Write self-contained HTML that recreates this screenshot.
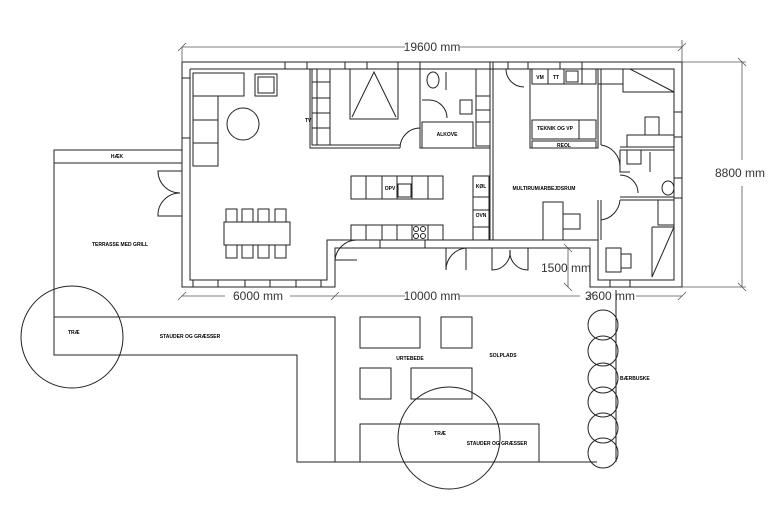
<!DOCTYPE html>
<html><head><meta charset="utf-8"><style>
html,body{margin:0;padding:0;background:#fff}
svg{display:block}
text{font-family:"Liberation Sans",sans-serif}
.s{font-size:5px;font-weight:bold}
.d{font-size:12px;fill:#333}
</style></head><body>
<svg width="768" height="512" viewBox="0 0 768 512" xmlns="http://www.w3.org/2000/svg">
<g fill="none" stroke="#222" stroke-width="1">
<!-- garden -->
<rect x="54" y="150" width="128" height="13"/>
<polyline points="54,163 54,355 297,355 297,462 597,462"/>
<polyline points="54,317 335,317 335,462"/>
<circle cx="72" cy="337" r="51"/>
<rect x="360" y="317" width="60" height="31"/>
<rect x="441" y="317" width="31" height="31"/>
<rect x="360" y="368" width="31" height="31"/>
<rect x="411" y="368" width="61" height="31"/>
<rect x="360" y="424" width="179" height="38"/>
<circle cx="449" cy="438" r="51"/>
<line x1="616" y1="290" x2="616" y2="462"/>
<circle cx="603" cy="325" r="15"/><circle cx="603" cy="351" r="15"/><circle cx="603" cy="378" r="15"/>
<circle cx="603" cy="402" r="15"/><circle cx="603" cy="428" r="15"/><circle cx="603" cy="453" r="15"/>
<!-- house walls -->
<polyline points="182,62 682,62 682,287 590,287 590,248 335,248 335,287 182,287 182,62"/>
<polyline points="190,69 674,69 674,280 598,280 598,240 327,240 327,280 190,280 190,69"/>
<!-- windows -->
<rect x="285" y="62" width="22" height="7"/><rect x="345" y="62" width="22" height="7"/><rect x="398" y="62" width="22" height="7"/>
<rect x="508" y="62" width="20" height="7"/><rect x="560" y="62" width="22" height="7"/>
<rect x="193" y="280" width="128" height="7"/>
<line x1="218" y1="280" x2="218" y2="287"/><line x1="245" y1="280" x2="245" y2="287"/><line x1="270" y1="280" x2="270" y2="287"/><line x1="296" y1="280" x2="296" y2="287"/>
<rect x="182" y="78" width="8" height="60"/>
<rect x="674" y="112" width="8" height="25"/><rect x="674" y="178" width="8" height="20"/>
<rect x="610" y="280" width="20" height="7"/>
<!-- terrace doors -->
<path d="M182 171 H158 A22 22 0 0 0 180 193"/>
<path d="M182 216 H158 A22 22 0 0 1 180 193"/>
<!-- living -->
<path d="M193 73 H244 V96 H218 V166 H193 Z"/>
<line x1="193" y1="96" x2="218" y2="96"/><line x1="193" y1="120" x2="218" y2="120"/><line x1="193" y1="143" x2="218" y2="143"/>
<rect x="255" y="74" width="22" height="22"/><rect x="258" y="77" width="16" height="16"/>
<circle cx="243" cy="124" r="16"/>
<rect x="224" y="222" width="66" height="23"/>
<rect x="226" y="209" width="11" height="13"/><rect x="242" y="209" width="11" height="13"/><rect x="258" y="209" width="11" height="13"/><rect x="275" y="209" width="11" height="13"/>
<rect x="226" y="245" width="11" height="13"/><rect x="242" y="245" width="11" height="13"/><rect x="258" y="245" width="11" height="13"/><rect x="275" y="245" width="11" height="13"/>
<!-- bedroom 1 -->
<polyline points="310,69 310,148 400,148"/>
<polyline points="317,69 317,145 400,145"/>
<rect x="312" y="69" width="18" height="76"/>
<line x1="312" y1="82" x2="330" y2="82"/><line x1="312" y1="98" x2="330" y2="98"/><line x1="312" y1="113" x2="330" y2="113"/><line x1="312" y1="128" x2="330" y2="128"/>
<rect x="350" y="69" width="48" height="50"/>
<polyline points="352,117 374,72 396,117"/>
<path d="M400 148 A20 20 0 0 1 420 128 V148"/>
<!-- bath/alkove -->
<polyline points="420,62 420,148 490,148"/>
<rect x="422" y="122" width="51" height="26"/>
<polyline points="422,100 430,100"/><path d="M430 100 A18 18 0 0 1 447 118"/>
<ellipse cx="433" cy="80" rx="6" ry="8"/><line x1="446" y1="72" x2="446" y2="90"/>
<rect x="460" y="100" width="12" height="14"/>
<rect x="476" y="69" width="14" height="77"/>
<line x1="476" y1="96" x2="490" y2="96"/><line x1="476" y1="110" x2="490" y2="110"/><line x1="476" y1="122" x2="490" y2="122"/>
<line x1="490" y1="62" x2="490" y2="240"/><line x1="493" y1="62" x2="493" y2="240"/>
<path d="M506 69 A18 18 0 0 0 524 87"/>
<!-- kitchen -->
<rect x="351" y="176" width="92" height="23"/>
<line x1="366" y1="176" x2="366" y2="199"/><line x1="382" y1="176" x2="382" y2="199"/><line x1="397" y1="176" x2="397" y2="199"/><line x1="412" y1="176" x2="412" y2="199"/><line x1="428" y1="176" x2="428" y2="199"/>
<rect x="398" y="184" width="13" height="13"/>
<rect x="351" y="225" width="92" height="15"/>
<line x1="366" y1="225" x2="366" y2="240"/><line x1="382" y1="225" x2="382" y2="240"/><line x1="397" y1="225" x2="397" y2="240"/><line x1="412" y1="225" x2="412" y2="240"/><line x1="428" y1="225" x2="428" y2="240"/>
<circle cx="416" cy="229" r="2.5"/><circle cx="423" cy="229" r="2.5"/><circle cx="416" cy="236" r="2.5"/><circle cx="423" cy="236" r="2.5"/>
<rect x="473" y="176" width="16" height="64"/>
<line x1="473" y1="197" x2="489" y2="197"/><line x1="473" y1="210" x2="489" y2="210"/><line x1="473" y1="227" x2="489" y2="227"/>
<rect x="380" y="240" width="45" height="8"/>
<!-- entry doors bottom -->
<path d="M335 260 A22 22 0 0 1 357 240 M335 260 L357 260"/>
<path d="M446 248 V270 A22 22 0 0 1 466 248"/><line x1="466" y1="248" x2="466" y2="270"/>
<path d="M492 248 V270 A18 18 0 0 0 510 250 M528 248 V270 A18 18 0 0 1 510 250"/>
<!-- teknik -->
<rect x="530" y="69" width="68" height="79"/>
<rect x="532" y="69" width="64" height="15"/>
<line x1="548" y1="69" x2="548" y2="84"/><line x1="564" y1="69" x2="564" y2="84"/><line x1="582" y1="69" x2="582" y2="84"/>
<rect x="566" y="71" width="12" height="11"/>
<rect x="532" y="120" width="64" height="19"/><line x1="579" y1="120" x2="579" y2="139"/>
<rect x="532" y="141" width="64" height="7"/>
<rect x="543" y="202" width="20" height="38"/><rect x="563" y="214" width="17" height="15"/>
<!-- right rooms -->
<line x1="598" y1="69" x2="598" y2="145"/><line x1="601" y1="69" x2="601" y2="145"/>
<line x1="598" y1="200" x2="598" y2="240"/><line x1="601" y1="200" x2="601" y2="240"/>
<path d="M601 145 A22 22 0 0 1 620 167 H620"/>
<path d="M601 220 A22 22 0 0 0 620 200"/>
<rect x="598" y="69" width="25" height="15"/>
<polyline points="623,69 623,92 674,92 630,69"/>
<rect x="627" y="135" width="47" height="12"/><rect x="645" y="117" width="14" height="18"/>
<polyline points="620,147 674,147"/><polyline points="620,150 674,150"/>
<polyline points="620,150 620,172 630,172"/><polyline points="620,197 674,197"/><polyline points="620,200 674,200"/>
<path d="M620 175 A18 18 0 0 1 638 193"/>
<rect x="627" y="150" width="14" height="14"/>
<ellipse cx="668" cy="188" rx="6" ry="7"/>
<line x1="650" y1="152" x2="650" y2="172"/>
<rect x="658" y="200" width="16" height="25"/>
<polyline points="652,227 674,227 652,277 652,227"/>
<rect x="606" y="248" width="15" height="24"/><rect x="621" y="254" width="10" height="14"/>
</g>
<!-- dimensions -->
<g stroke="#555" stroke-width="0.8" fill="none">
<line x1="182" y1="47" x2="405" y2="47"/><line x1="460" y1="47" x2="682" y2="47"/>
<line x1="182" y1="47" x2="182" y2="62"/><line x1="682" y1="40" x2="682" y2="62"/>
<line x1="178" y1="51" x2="186" y2="43"/><line x1="678" y1="51" x2="686" y2="43"/>
<line x1="742" y1="62" x2="742" y2="160"/><line x1="742" y1="186" x2="742" y2="287"/>
<line x1="682" y1="62" x2="746" y2="62"/><line x1="682" y1="287" x2="746" y2="287"/>
<line x1="738" y1="58" x2="746" y2="66"/><line x1="738" y1="283" x2="746" y2="291"/>
<line x1="182" y1="296" x2="225" y2="296"/><line x1="290" y1="296" x2="405" y2="296"/><line x1="460" y1="296" x2="580" y2="296"/><line x1="636" y1="296" x2="682" y2="296"/>
<line x1="178" y1="300" x2="186" y2="292"/><line x1="331" y1="300" x2="339" y2="292"/><line x1="586" y1="300" x2="594" y2="292"/><line x1="678" y1="300" x2="686" y2="292"/>
<line x1="568" y1="248" x2="568" y2="287"/><line x1="564" y1="244" x2="572" y2="252"/><line x1="564" y1="283" x2="572" y2="291"/>
</g>
<text class="d" x="432" y="51" text-anchor="middle">19600 mm</text>
<text class="d" x="740" y="177" text-anchor="middle">8800 mm</text>
<text class="d" x="258" y="300" text-anchor="middle">6000 mm</text>
<text class="d" x="432" y="300" text-anchor="middle">10000 mm</text>
<text class="d" x="610" y="300" text-anchor="middle">3600 mm</text>
<text class="d" x="566" y="272" text-anchor="middle">1500 mm</text>
<g class="s">
<text x="117" y="158" text-anchor="middle">HÆK</text>
<text x="120" y="246" text-anchor="middle">TERRASSE MED GRILL</text>
<text x="68" y="334">TRÆ</text>
<text x="190" y="338" text-anchor="middle">STAUDER OG GRÆSSER</text>
<text x="410" y="360" text-anchor="middle">URTEBEDE</text>
<text x="503" y="357" text-anchor="middle">SOLPLADS</text>
<text x="620" y="380">BÆRBUSKE</text>
<text x="440" y="435" text-anchor="middle">TRÆ</text>
<text x="497" y="445" text-anchor="middle">STAUDER OG GRÆSSER</text>
<text x="447" y="136" text-anchor="middle">ALKOVE</text>
<text x="390" y="190" text-anchor="middle">OPV</text>
<text x="481" y="188" text-anchor="middle">KØL</text>
<text x="481" y="217" text-anchor="middle">OVN</text>
<text x="544" y="190" text-anchor="middle">MULTIRUM/ARBEJDSRUM</text>
<text x="540" y="79" text-anchor="middle">VM</text>
<text x="556" y="79" text-anchor="middle">TT</text>
<text x="555" y="130" text-anchor="middle">TEKNIK OG VP</text>
<text x="564" y="147" text-anchor="middle">REOL</text>
<text x="305" y="122">TV</text>
</g>
</svg>
</body></html>
